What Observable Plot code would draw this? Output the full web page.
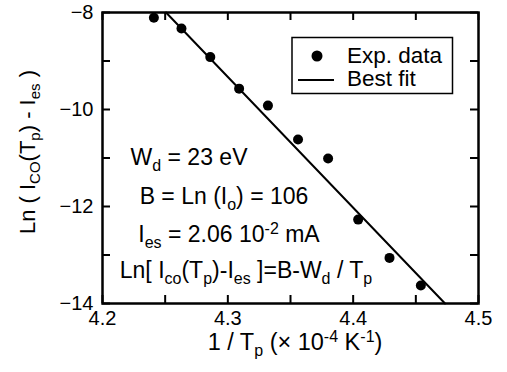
<!DOCTYPE html>
<html><head><meta charset="utf-8">
<script src="https://cdn.jsdelivr.net/npm/d3@7"></script>
<script src="https://cdn.jsdelivr.net/npm/@observablehq/plot@0.6"></script>
<style>body{margin:0;background:#fff;} #chart svg{display:block;}</style>
</head><body><div id="chart"></div>
<script>
// Experimental data: 1/Tp (x 1e-4 K^-1) and Ln(Ico(Tp) - Ies)
const invTp = [4.241, 4.263, 4.286, 4.309, 4.332, 4.356, 4.380, 4.404, 4.429, 4.454];
const lnI   = [-8.11, -8.33, -8.92, -9.57, -9.92, -10.62, -11.01, -12.27, -13.06, -13.63];
// Best fit line end points
const fitInvTp = [4.2507, 4.4733];
const fitLnI   = [-8, -14];
// Ticks
const xTicks = [4.2, 4.25, 4.3, 4.35, 4.4, 4.45, 4.5];
const xTickLabels = [4.2, 4.3, 4.4, 4.5];
const yTicks = [-14, -13, -12, -11, -10, -9, -8];
const yTickLabels = [-14, -12, -10, -8];
// Texts (segments: [text, "" | "sub" | "sup"])
const xLabel = [["1 / T",""],["p","sub"],[" (× 10",""],["-4","sup"],[" K",""],["-1","sup"],[")",""]];
const yLabel = [["Ln ( I",""],["CO","sub"],["(T",""],["p","sub"],[") - I",""],["es","sub"],[" )",""]];
const legendLabels = ["Exp. data", "Best fit"];
const notes = [
  [["W",""],["d","sub"],[" = 23 eV",""]],
  [["B = Ln (I",""],["o","sub"],[") = 106",""]],
  [["I",""],["es","sub"],[" = 2.06 10",""],["-2","sup"],[" mA",""]],
  [["Ln[ I",""],["co","sub"],["(T",""],["p","sub"],[")-I",""],["es","sub"],[" ]=B-W",""],["d","sub"],[" / T",""],["p","sub"]]
];

const data = invTp.map((x, i) => ({x, y: lnI[i]}));
const fit = fitInvTp.map((x, i) => ({x, y: fitLnI[i]}));
const FONT = "'Liberation Sans', Arial, Helvetica, sans-serif";
const W = 507, H = 372, ML = 102, MR = 29, MT = 12, MB = 69;
const PW = W - ML - MR, PH = H - MT - MB, TICK = 8;

const svg = Plot.plot({
  width: W, height: H,
  marginLeft: ML, marginRight: MR, marginTop: MT, marginBottom: MB,
  style: {fontFamily: FONT, fontSize: "20px", background: "#fff", color: "#000"},
  x: {domain: [4.2, 4.5]},
  y: {domain: [-14, -8]},
  marks: [
    // inward ticks on all four sides
    Plot.tickX(xTicks, {x: d => d, insetTop: PH - TICK, stroke: "#000", strokeWidth: 2}),
    Plot.tickX(xTicks, {x: d => d, insetBottom: PH - TICK, stroke: "#000", strokeWidth: 2}),
    Plot.tickY(yTicks, {y: d => d, insetRight: PW - TICK, stroke: "#000", strokeWidth: 2}),
    Plot.tickY(yTicks, {y: d => d, insetLeft: PW - TICK, stroke: "#000", strokeWidth: 2}),
    Plot.axisX(xTickLabels, {anchor: "bottom", tickSize: 0, tickPadding: 7, fontSize: 20, tickFormat: d3.format(".1f"), label: null}),
    Plot.axisY(yTickLabels, {anchor: "left", tickSize: 0, tickPadding: 9, fontSize: 20, tickFormat: d3.format(".0f"), label: null}),
    Plot.line(fit, {x: "x", y: "y", stroke: "#000", strokeWidth: 2}),
    Plot.dot(data, {x: "x", y: "y", r: 5, fill: "#000"}),
    Plot.frame({stroke: "#000", strokeWidth: 2.5})
  ]
});
document.getElementById("chart").appendChild(svg);

const root = d3.select(svg);
function rich(g, segs, size) {
  const t = g.append("text").attr("font-family", FONT).attr("font-size", size).attr("fill", "#000");
  let shift = 0;
  const sub = Math.round(size * 0.24), sup = -Math.round(size * 0.34);
  segs.forEach(([s, kind]) => {
    const target = kind === "sub" ? sub : kind === "sup" ? sup : 0;
    const sp = t.append("tspan").text(s).attr("dy", target - shift);
    if (kind) sp.attr("font-size", Math.round(size * 0.68));
    shift = target;
  });
  return t;
}

// axis labels
rich(root.append("g").attr("transform", "translate(295,350)"), xLabel, 23.5).attr("text-anchor", "middle");
rich(root.append("g").attr("transform", "translate(35,152) rotate(-90)"), yLabel, 22).attr("text-anchor", "middle");

// annotations
const noteCenters = [[189, 165], [224, 204], [229, 241.5], [246, 278]];
notes.forEach((segs, i) => {
  rich(root.append("g").attr("transform", `translate(${noteCenters[i][0]},${noteCenters[i][1]})`), segs, 23)
    .attr("text-anchor", "middle");
});

// legend
const lg = root.append("g").attr("text-anchor", "start");
lg.append("path").attr("d", "M292,37.5H452.5V93.5H292Z")
  .attr("fill", "#fff").attr("stroke", "#000").attr("stroke-width", 1.5);
lg.append("circle").attr("cx", 317).attr("cy", 56).attr("r", 5.5).attr("fill", "#000");
lg.append("line").attr("x1", 298).attr("x2", 334).attr("y1", 80).attr("y2", 80).attr("stroke", "#000").attr("stroke-width", 2);
lg.append("text").attr("x", 347).attr("y", 63).attr("text-anchor", "start").attr("font-family", FONT).attr("font-size", 22.5).text(legendLabels[0]);
lg.append("text").attr("x", 347).attr("y", 86).attr("text-anchor", "start").attr("font-family", FONT).attr("font-size", 22.5).text(legendLabels[1]);
</script>
</body></html>
